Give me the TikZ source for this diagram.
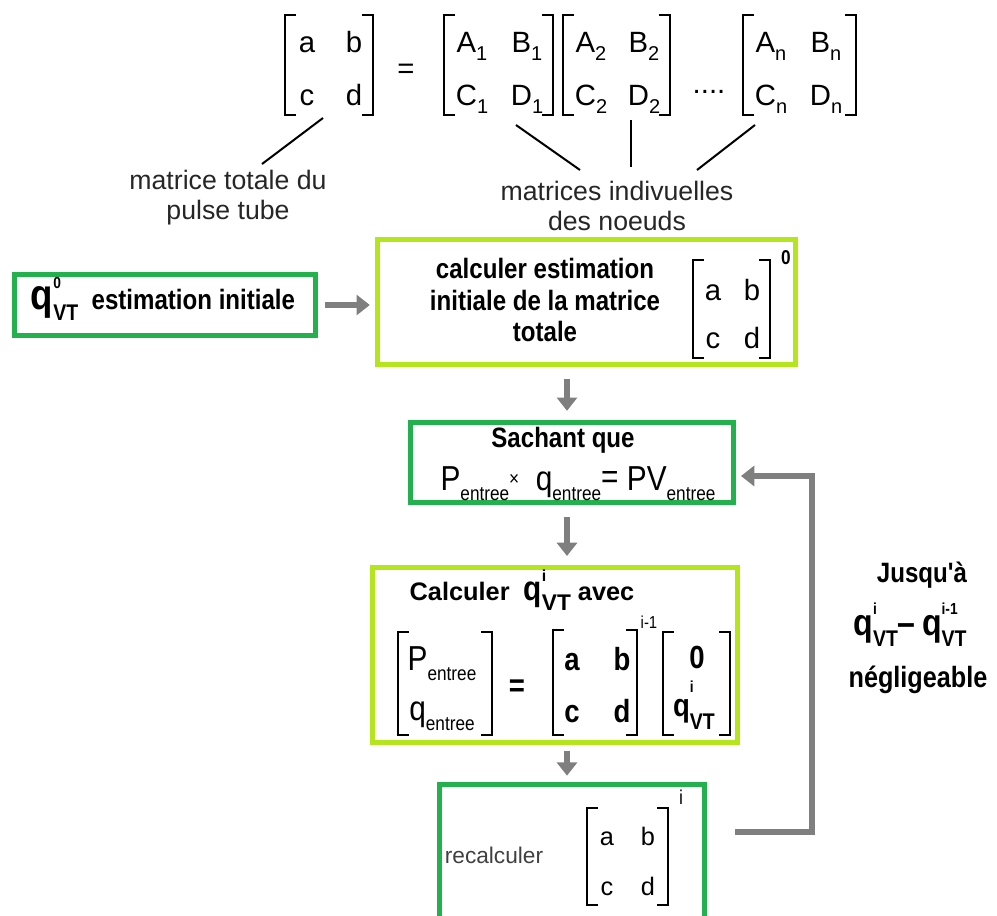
\documentclass[tikz,border=0pt]{standalone}
\usepackage{fontspec}
\setmainfont{Liberation Sans}
\newfontfamily\nar[FakeStretch=0.86]{Liberation Sans}
\usetikzlibrary{arrows.meta,calc}
\definecolor{dgreen}{RGB}{34,177,76}
\definecolor{lgreen}{RGB}{181,230,29}
\definecolor{agray}{RGB}{127,127,127}
\newcommand\lo[1]{\raisebox{-0.3em}{\fontsize{15}{15}\selectfont#1}}
\newcommand\SupSub[2]{\raisebox{0.72em}{\rlap{\fontsize{12}{12}\selectfont#1}}\raisebox{-0.42em}{\fontsize{17}{17}\selectfont#2}}
\newcommand\LB[3]{\draw[brk] ({#1+11},#2) -- (#1,#2) -- (#1,#3) -- ({#1+11},#3);}
\newcommand\RB[3]{\draw[brk] ({#1-11},#2) -- (#1,#2) -- (#1,#3) -- ({#1-11},#3);}
\tikzset{
  dg/.style={draw=dgreen, line width=3.5pt, fill=white},
  lg/.style={draw=lgreen, line width=3.5pt, fill=white},
  arr/.style={draw=agray, line width=4.3pt, -{Triangle[width=15pt,length=10pt]}},
  brk/.style={line width=1.9pt},
  bt/.style={font=\nar\bfseries\fontsize{21}{23.5}\selectfont, align=center, inner sep=0pt},
  rt/.style={font=\fontsize{20}{22.5}\selectfont, align=center, inner sep=0pt, text=black!85},
  mt/.style={font=\fontsize{22}{22}\selectfont, inner sep=0pt, anchor=base},
  mb/.style={font=\nar\bfseries\fontsize{24}{24}\selectfont, inner sep=0pt, anchor=base},
  ms/.style={font=\fontsize{19}{19}\selectfont, inner sep=0pt, anchor=base},
  lead/.style={line width=1.5pt},
}
\begin{document}
\begin{tikzpicture}[x=0.75pt,y=-0.75pt]
\useasboundingbox (0,0) rectangle (997,915);
\clip (0,0) rectangle (997,915);

% ---------- top equation ----------
\LB{285}{15}{115}\RB{373}{15}{115}
\node[mt] (ta) at (307,52) {a};
\node[mt] (tb) at (354,52) {b};
\node[mt] (tc) at (307,105) {c};
\node[mt] (td) at (354,105) {d};
\node[mt] (eq) at (406,78) {=};
\LB{444}{15}{115}\RB{553}{15}{115}
\node[mt] (a1) at (472,52) {A\lo{1}};
\node[mt] (b1m) at (527,52) {B\lo{1}};
\node[mt] (c1) at (472,105) {C\lo{1}};
\node[mt] (d1) at (527,105) {D\lo{1}};
\LB{563}{15}{115}\RB{670}{15}{115}
\node[mt] (a2) at (591,52) {A\lo{2}};
\node[mt] (b2m) at (644,52) {B\lo{2}};
\node[mt] (c2) at (591,105) {C\lo{2}};
\node[mt] (d2) at (644,105) {D\lo{2}};
\node[mt] (dots) at (709,93) {....};
\LB{743}{15}{115}\RB{856}{15}{115}
\node[mt] (an) at (771,52) {A\lo{n}};
\node[mt] (bn) at (826,52) {B\lo{n}};
\node[mt] (cn) at (771,105) {C\lo{n}};
\node[mt] (dn) at (826,105) {D\lo{n}};

\node[rt] (tot) at (228,198) {matrice totale du\\pulse tube};
\node[rt] (ind) at (617,206) {matrices indivuelles\\des noeuds};
\coordinate (l1a) at (323,118); \coordinate (l1b) at (262,164);
\coordinate (l2a) at (516,125); \coordinate (l2b) at (580,170);
\coordinate (l3a) at (631,120); \coordinate (l3b) at (631,167);
\coordinate (l4a) at (755,125); \coordinate (l4b) at (697,170);
\draw[lead] (l1a) -- (l1b);
\draw[lead] (l2a) -- (l2b);
\draw[lead] (l3a) -- (l3b);
\draw[lead] (l4a) -- (l4b);

% ---------- boxes ----------
\node[dg, minimum width=226pt, minimum height=46pt] (bx1) at (165,305) {};
\node[lg, minimum width=313.5pt, minimum height=94pt] (bx2) at (586.5,302) {};
\node[dg, minimum width=242pt, minimum height=60pt] (bx3) at (572,462.5) {};
\node[lg, minimum width=274pt, minimum height=131pt] (bx4) at (555,655) {};
\node[dg, minimum width=199pt, minimum height=107pt] (bx5) at (572,856) {};

% box 1
\node[bt, anchor=base] (t1) at (163,309) {{\fontsize{32}{32}\selectfont q}\SupSub{0}{VT}\ \ estimation initiale};

% box 2
\node[bt] (t2) at (545,300) {calculer estimation\\initiale de la matrice\\totale};
\LB{693}{260}{358}\RB{770}{260}{358}
\node[mt] (m2a) at (713,300) {a};
\node[mt] (m2b) at (752,300) {b};
\node[mt] (m2c) at (713,348) {c};
\node[mt] (m2d) at (752,348) {d};
\node[bt, font=\nar\bfseries\fontsize{15}{15}\selectfont] (m2e) at (786,258) {0};

% box 3
\node[bt] (t3) at (563,440) {Sachant que};
\node[mt, font=\nar\fontsize{26}{26}\selectfont] (t3b) at (578,490) {P\lo{entree}{\fontsize{15}{15}\selectfont\raisebox{0.25em}{×}}\ \ q\lo{entree}{\raisebox{0.05em}{=}} PV\lo{entree}};

% box 4
\node[bt, font=\bfseries\fontsize{19}{19}\selectfont, anchor=base] (t4) at (522,600) {Calculer\ \ {\nar\fontsize{26}{26}\selectfont q}\SupSub{i}{VT} avec};
\LB{398}{632}{735}\RB{492}{632}{735}
\node[mt, font=\nar\fontsize{26}{26}\selectfont] (pe) at (442,670) {P\lo{entree}};
\node[mt, font=\nar\fontsize{26}{26}\selectfont] (qe) at (442,720) {q\lo{entree}};
\node[mb] (eq2) at (517,696) {=};
\LB{553}{630}{735}\RB{637}{630}{735}
\node[mb] (m4a) at (572,670) {a};
\node[mb] (m4b) at (622,670) {b};
\node[mb] (m4c) at (572,722) {c};
\node[mb] (m4d) at (622,722) {d};
\node[bt, font=\nar\fontsize{13}{13}\selectfont] (m4e) at (649,622) {i-1};
\LB{663}{632}{735}\RB{730}{632}{735}
\node[mb] (v0) at (697,668) {0};
\node[mb] (vq) at (694,716) {q\SupSub{i}{VT}};

% box 5
\node[rt, font=\fontsize{17}{17}\selectfont, text=black!75] (t5) at (494,855) {recalculer};
\LB{587}{808}{905}\RB{668}{808}{905}
\node[ms] (m5a) at (607,845) {a};
\node[ms] (m5b) at (648,845) {b};
\node[ms] (m5c) at (607,895) {c};
\node[ms] (m5d) at (648,895) {d};
\node[rt, font=\fontsize{15}{15}\selectfont] (m5e) at (681,797) {i};

% right text
\node[bt] (j1) at (922,575) {Jusqu'à};
\node[bt, anchor=base] (j2) at (910,635) {{\fontsize{28}{28}\selectfont q}\SupSub{i}{VT}{\fontsize{28}{28}\selectfont –\,q}\SupSub{i-1}{VT}};
\node[bt, font=\nar\bfseries\fontsize{22}{22}\selectfont] (j3) at (918,680) {négligeable};

% ---------- arrows ----------
\coordinate (ax) at (567,0);
\draw[arr, shorten <=5pt, shorten >=4pt] (bx1.east) -- (bx1.east -| bx2.west);
\draw[arr, shorten <=9pt, shorten >=7pt] (bx2.south -| ax) -- (bx3.north -| ax);
\draw[arr, shorten <=9pt, shorten >=7pt] (bx3.south -| ax) -- (bx4.north -| ax);
\draw[arr, shorten <=5pt, shorten >=5pt] (bx4.south -| ax) -- (bx5.north -| ax);
\coordinate (fbout) at (735,832);
\coordinate (fbc) at (812,650);
\coordinate (fbin) at (741,476);
\draw[arr] (fbout) -| (fbc) |- (fbin);
\end{tikzpicture}
\end{document}
